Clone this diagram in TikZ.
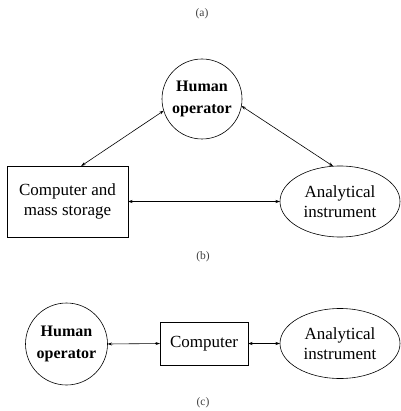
\documentclass[tikz,border=0pt]{standalone}
\usepackage{fontspec}
\setmainfont{Liberation Serif}
\usetikzlibrary{arrows.meta,shapes.geometric}
\begin{document}
\begin{tikzpicture}[x=1pt,y=-1pt,
  every node/.style={inner sep=0pt, outer sep=0pt},
  lbl/.style={font=\fontsize{11.5}{12}\selectfont, text=black!75},
  txt/.style={align=center, font=\fontsize{17}{20}\selectfont},
  btxt/.style={align=center, font=\fontsize{16}{22}\selectfont\bfseries},
  circ/.style={draw, line width=0.6pt, circle, minimum size=#1},
  boxn/.style={draw, line width=0.6pt, rectangle},
  elln/.style={draw, line width=0.6pt, ellipse, minimum width=120pt, minimum height=#1},
  link/.style={line width=0.6pt, {Stealth[length=4.5pt,width=3pt]}-{Stealth[length=4.5pt,width=3pt]}}
]
\useasboundingbox (0,0) rectangle (400,411);
% (a)
\node[lbl] (la) at (202,14) {(a)};
% (b)
\node[circ=80pt, btxt] (hb) at (202,99) {Human\\operator};
\node[boxn, minimum width=121pt, minimum height=71pt, txt] (cm) at (67.5,201.5) {Computer and\\mass storage};
\node[elln=71pt, txt] (ai) at (340,201.5) {Analytical\\instrument};
\node[lbl] (lb) at (203,257) {(b)};
\draw[link] (hb.197) -- (cm.69);
\draw[link] (hb.-10) -- (ai.101);
\draw[link] (cm.east) -- (ai.west);
% (c)
\node[circ=82pt, btxt] (hc) at (66.5,344) {Human\\operator};
\node[boxn, minimum width=88pt, minimum height=43pt, txt] (cc) at (204,343.5) {Computer};
\node[elln=70pt, txt] (ac) at (340,343.5) {Analytical\\instrument};
\node[lbl] (lc) at (203,403) {(c)};
\draw[link] (hc.east) -- (cc.west);
\draw[link] (cc.east) -- (ac.west);
\end{tikzpicture}
\end{document}
